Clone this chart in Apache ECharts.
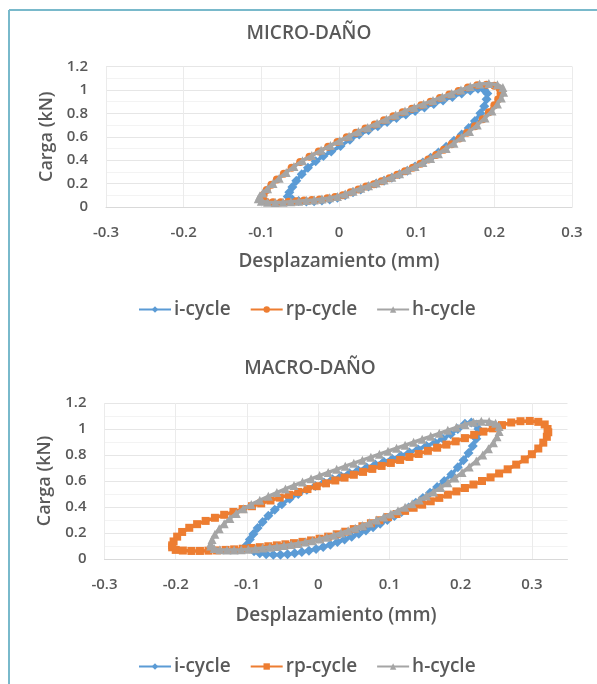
<!DOCTYPE html>
<html><head><meta charset="utf-8">
<script src="https://cdn.jsdelivr.net/npm/echarts@6/dist/echarts.min.js"></script>
<style>html,body{margin:0;padding:0;background:#fff}#c{width:597px;height:684px}</style>
</head><body><div id="c"></div><script>
// ---- data (displacement mm, load kN) ----
const chartTitles = ['MICRO-DAÑO', 'MACRO-DAÑO'];
const seriesNames = ['i-cycle', 'rp-cycle', 'h-cycle'];
const xAxisName = 'Desplazamiento (mm)';
const yAxisName = 'Carga (kN)';

const microI = [[-0.066,0.09],[-0.06,0.065],[-0.052,0.052],[-0.042,0.048],[-0.032,0.05],[-0.022,0.056],[-0.012,0.065],[-0.002,0.08],[0.008,0.1],[0.018,0.125],[0.028,0.15],[0.038,0.175],[0.048,0.2],[0.058,0.225],[0.068,0.25],[0.078,0.28],[0.088,0.31],[0.098,0.345],[0.108,0.38],[0.118,0.42],[0.128,0.465],[0.138,0.515],[0.148,0.565],[0.158,0.62],[0.167,0.675],[0.175,0.735],[0.182,0.8],[0.187,0.86],[0.19,0.92],
  [0.191,0.97],[0.187,1.0],[0.179,1.01],[0.169,0.995],[0.158,0.97],[0.146,0.94],[0.134,0.91],[0.122,0.88],[0.11,0.85],[0.098,0.82],[0.086,0.79],[0.074,0.76],[0.062,0.725],[0.05,0.69],[0.038,0.655],[0.026,0.62],[0.014,0.575],[0.002,0.52],[-0.01,0.475],[-0.02,0.435],[-0.03,0.39],[-0.04,0.335],[-0.048,0.28],[-0.055,0.225],[-0.06,0.17],[-0.064,0.125]];
const microRP = [[-0.1,0.06],[-0.094,0.045],[-0.085,0.04],[-0.075,0.04],[-0.065,0.045],[-0.055,0.05],[-0.045,0.055],[-0.035,0.06],[-0.025,0.065],[-0.015,0.075],[-0.005,0.085],[0.005,0.1],[0.015,0.125],[0.025,0.15],[0.035,0.175],[0.045,0.195],[0.055,0.22],[0.065,0.245],[0.075,0.275],[0.085,0.305],[0.095,0.335],[0.105,0.37],[0.115,0.405],[0.125,0.445],[0.135,0.49],[0.145,0.535],[0.155,0.585],[0.165,0.635],[0.175,0.69],[0.185,0.75],[0.193,0.81],[0.2,0.87],[0.205,0.92],[0.208,0.97],
  [0.207,1.01],[0.2,1.035],[0.19,1.045],[0.178,1.04],[0.166,1.02],[0.154,0.99],[0.142,0.96],[0.13,0.93],[0.118,0.9],[0.106,0.87],[0.094,0.84],[0.082,0.81],[0.07,0.775],[0.058,0.74],[0.046,0.705],[0.034,0.67],[0.022,0.635],[0.01,0.595],[-0.002,0.555],[-0.014,0.515],[-0.026,0.475],[-0.038,0.43],[-0.05,0.385],[-0.061,0.335],[-0.071,0.285],[-0.08,0.235],[-0.087,0.19],[-0.093,0.145],[-0.097,0.105],[-0.1,0.075]];
const microH = [[-0.104,0.07],[-0.1,0.05],[-0.092,0.04],[-0.082,0.038],[-0.072,0.04],[-0.062,0.045],[-0.052,0.05],[-0.042,0.055],[-0.032,0.06],[-0.022,0.068],[-0.012,0.078],[-0.002,0.09],[0.008,0.11],[0.018,0.135],[0.028,0.16],[0.038,0.182],[0.048,0.205],[0.058,0.23],[0.068,0.255],[0.078,0.285],[0.088,0.315],[0.098,0.345],[0.108,0.38],[0.118,0.415],[0.128,0.455],[0.138,0.5],[0.148,0.545],[0.158,0.595],[0.168,0.645],[0.178,0.7],[0.188,0.76],[0.197,0.82],[0.204,0.88],[0.209,0.93],[0.212,0.98],
  [0.211,1.02],[0.204,1.045],[0.193,1.055],[0.181,1.05],[0.169,1.03],[0.157,1.0],[0.145,0.97],[0.133,0.94],[0.121,0.91],[0.109,0.88],[0.097,0.85],[0.085,0.82],[0.073,0.785],[0.061,0.75],[0.049,0.715],[0.037,0.68],[0.025,0.645],[0.013,0.605],[0.001,0.565],[-0.011,0.525],[-0.023,0.485],[-0.035,0.44],[-0.047,0.395],[-0.058,0.345],[-0.068,0.295],[-0.077,0.245],[-0.085,0.2],[-0.092,0.155],[-0.098,0.12],[-0.102,0.095]];

const macroI = [[-0.1,0.11],[-0.096,0.08],[-0.09,0.06],[-0.082,0.045],[-0.073,0.036],[-0.063,0.032],[-0.053,0.033],[-0.043,0.037],[-0.033,0.044],[-0.023,0.053],[-0.013,0.064],[-0.003,0.077],[0.007,0.092],[0.017,0.11],[0.027,0.13],[0.037,0.15],[0.047,0.172],[0.057,0.195],[0.067,0.219],[0.077,0.245],[0.087,0.272],[0.097,0.3],[0.107,0.33],[0.117,0.362],[0.127,0.396],[0.137,0.432],[0.147,0.47],[0.157,0.51],[0.167,0.553],[0.177,0.6],[0.187,0.65],[0.196,0.705],[0.204,0.76],[0.211,0.815],[0.217,0.87],[0.222,0.925],[0.225,0.97],
  [0.225,1.0],[0.222,1.035],[0.215,1.05],[0.206,1.04],[0.196,1.0],[0.186,0.96],[0.175,0.925],[0.164,0.895],[0.152,0.87],[0.14,0.845],[0.128,0.82],[0.116,0.795],[0.104,0.77],[0.092,0.748],[0.08,0.726],[0.068,0.704],[0.056,0.682],[0.044,0.66],[0.032,0.637],[0.02,0.613],[0.008,0.588],[-0.004,0.562],[-0.016,0.533],[-0.028,0.5],[-0.04,0.463],[-0.051,0.422],[-0.061,0.378],[-0.07,0.332],[-0.078,0.285],[-0.085,0.238],[-0.091,0.192],[-0.096,0.15]];
const macroRP = [[-0.205,0.09],[-0.2,0.07],[-0.19,0.065],[-0.178,0.062],[-0.166,0.062],[-0.154,0.064],[-0.142,0.066],[-0.13,0.07],[-0.118,0.074],[-0.106,0.079],[-0.094,0.085],[-0.082,0.091],[-0.07,0.098],[-0.058,0.105],[-0.046,0.113],[-0.034,0.122],[-0.022,0.132],[-0.01,0.143],[0.002,0.156],[0.014,0.172],[0.026,0.19],[0.038,0.21],[0.05,0.23],[0.062,0.252],[0.074,0.275],[0.086,0.298],[0.098,0.322],[0.11,0.346],[0.122,0.37],[0.134,0.394],[0.146,0.418],[0.158,0.444],[0.17,0.47],[0.182,0.495],[0.194,0.52],[0.206,0.546],[0.218,0.573],[0.23,0.6],[0.242,0.628],[0.254,0.658],[0.266,0.69],[0.278,0.726],[0.29,0.766],[0.3,0.806],[0.309,0.85],[0.316,0.895],[0.321,0.94],[0.323,0.975],
  [0.322,1.0],[0.318,1.035],[0.309,1.055],[0.297,1.062],[0.284,1.06],[0.271,1.05],[0.258,1.03],[0.245,1.005],[0.232,0.98],[0.219,0.955],[0.206,0.93],[0.193,0.905],[0.18,0.88],[0.167,0.856],[0.154,0.832],[0.141,0.808],[0.128,0.785],[0.115,0.762],[0.102,0.739],[0.089,0.716],[0.076,0.693],[0.063,0.67],[0.05,0.648],[0.037,0.626],[0.024,0.604],[0.011,0.582],[-0.002,0.56],[-0.015,0.538],[-0.028,0.516],[-0.041,0.494],[-0.054,0.472],[-0.067,0.45],[-0.08,0.428],[-0.093,0.406],[-0.106,0.384],[-0.119,0.362],[-0.132,0.34],[-0.145,0.317],[-0.158,0.293],[-0.17,0.268],[-0.181,0.24],[-0.191,0.208],[-0.198,0.172],[-0.203,0.135],[-0.205,0.105]];
const macroH = [[-0.151,0.1],[-0.146,0.08],[-0.138,0.072],[-0.128,0.07],[-0.118,0.07],[-0.108,0.072],[-0.098,0.075],[-0.088,0.079],[-0.078,0.084],[-0.068,0.09],[-0.058,0.096],[-0.048,0.103],[-0.038,0.111],[-0.028,0.12],[-0.018,0.13],[-0.008,0.141],[0.002,0.153],[0.012,0.167],[0.022,0.183],[0.032,0.2],[0.042,0.218],[0.052,0.237],[0.062,0.257],[0.072,0.278],[0.082,0.3],[0.092,0.323],[0.102,0.347],[0.112,0.372],[0.122,0.398],[0.132,0.425],[0.142,0.454],[0.152,0.484],[0.162,0.516],[0.172,0.55],[0.182,0.586],[0.192,0.624],[0.202,0.665],[0.212,0.708],[0.222,0.754],[0.231,0.8],[0.239,0.848],[0.246,0.895],[0.251,0.94],[0.254,0.98],
  [0.254,1.02],[0.249,1.045],[0.24,1.058],[0.229,1.06],[0.218,1.052],[0.206,1.035],[0.194,1.013],[0.182,0.99],[0.17,0.967],[0.158,0.944],[0.146,0.921],[0.134,0.898],[0.122,0.875],[0.11,0.852],[0.098,0.829],[0.086,0.806],[0.074,0.783],[0.062,0.76],[0.05,0.737],[0.038,0.714],[0.026,0.69],[0.014,0.666],[0.002,0.642],[-0.01,0.617],[-0.022,0.592],[-0.034,0.566],[-0.046,0.539],[-0.058,0.511],[-0.07,0.482],[-0.082,0.452],[-0.094,0.42],[-0.105,0.386],[-0.115,0.35],[-0.124,0.312],[-0.132,0.272],[-0.139,0.232],[-0.145,0.19],[-0.149,0.15],[-0.151,0.12]];

const xMin = -0.3, xMaxTop = 0.3, xMaxBottom = 0.35, xStep = 0.1;
const yMin = 0, yMax = 1.2, yStep = 0.2;

// ---- styles ----
const colors = ['#5b9bd5', '#ed7d31', '#a5a5a5'];
const txt = '#595959';
const FONT = '"Open Sans", "Liberation Sans", sans-serif';

const chart = echarts.init(document.getElementById('c'), null, {renderer: 'canvas'});

function xAxisCfg(gi, max, gap) {
  return {
    type: 'value', gridIndex: gi, min: xMin, max: max, interval: xStep,
    name: xAxisName, nameLocation: 'middle', nameGap: gap,
    nameTextStyle: {color: txt, fontSize: 19, fontWeight: 600, fontFamily: FONT},
    axisLine: {show: true, onZero: true, lineStyle: {color: '#d9d9d9', width: 1}},
    axisTick: {show: false},
    axisLabel: {color: txt, fontSize: 15, fontWeight: 600, fontFamily: FONT, margin: 18,
      showMaxLabel: max === xMaxTop, formatter: v => String(+v.toFixed(2))},
    splitLine: {show: true, showMaxLine: max === xMaxTop, lineStyle: {color: '#ebebeb', width: 1}}
  };
}
function yAxisCfg(gi) {
  return {
    type: 'value', gridIndex: gi, min: yMin, max: yMax, interval: yStep,
    name: yAxisName, nameLocation: 'middle', nameGap: 50, nameRotate: 90,
    nameTextStyle: {color: txt, fontSize: 18, fontWeight: 600, fontFamily: FONT},
    axisLine: {show: false}, axisTick: {show: false},
    axisLabel: {color: txt, fontSize: 15, fontWeight: 600, fontFamily: FONT, margin: 18,
      formatter: v => String(+v.toFixed(2))},
    splitLine: {show: true, lineStyle: {color: '#e6e6e6', width: 1}},
    minorTick: {show: false, splitNumber: 2},
    minorSplitLine: {show: true, lineStyle: {color: '#f3f3f3', width: 1}}
  };
}
function lineSeries(name, data, idx, gi, symbol, size) {
  return {
    name: name, type: 'line', xAxisIndex: gi, yAxisIndex: gi, data: data,
    color: colors[idx], symbol: symbol, symbolSize: size, showSymbol: true,
    lineStyle: {width: 3.5, color: colors[idx]},
    itemStyle: {color: colors[idx], borderWidth: 0},
    emphasis: {disabled: true}, z: 2 + idx
  };
}
const tag = ['|micro', '|macro'];
const symTop = ['diamond', 'circle', 'triangle'];
const symBot = ['diamond', 'rect', 'triangle'];
const symSizes = [10, 8, 9];
const dataTop = [microI, microRP, microH];
const dataBot = [macroI, macroRP, macroH];

const series = [];
seriesNames.forEach((n, i) => series.push(lineSeries(n + tag[0], dataTop[i], i, 0, symTop[i], symSizes[i])));
seriesNames.forEach((n, i) => series.push(lineSeries(n + tag[1], dataBot[i], i, 1, symBot[i], symSizes[i])));

const legendCfg = (top, k) => ({
  top: top, left: 133, itemWidth: 32, itemHeight: 8, itemGap: 19,
  data: seriesNames.map(n => n + tag[k]),
  formatter: n => n.split('|')[0],
  textStyle: {color: txt, fontSize: 19, fontWeight: 600, fontFamily: FONT, padding: [0, 0, 0, -2]},
  selectedMode: false
});

chart.setOption({
  animation: false,
  backgroundColor: '#ffffff',
  title: [
    {text: chartTitles[0], left: 304, top: 19, textAlign: 'center',
     textStyle: {color: txt, fontSize: 19, fontWeight: 600, fontFamily: FONT}},
    {text: chartTitles[1], left: 305, top: 354, textAlign: 'center',
     textStyle: {color: txt, fontSize: 19, fontWeight: 600, fontFamily: FONT}}
  ],
  legend: [legendCfg(295, 0), legendCfg(652, 1)],
  grid: [
    {left: 106, top: 66.5, width: 466, height: 140.5, containLabel: false},
    {left: 104.5, top: 403, width: 463, height: 156, containLabel: false}
  ],
  xAxis: [xAxisCfg(0, xMaxTop, 45), xAxisCfg(1, xMaxBottom, 47)],
  yAxis: [yAxisCfg(0), yAxisCfg(1)],
  series: series,
  graphic: [
    {type: 'line', shape: {x1: 9, y1: 10, x2: 597, y2: 10}, style: {stroke: '#79b9cb', lineWidth: 2}, silent: true},
    {type: 'line', shape: {x1: 9, y1: 10, x2: 9, y2: 684}, style: {stroke: '#79b9cb', lineWidth: 2}, silent: true}
  ]
});
</script></body></html>
